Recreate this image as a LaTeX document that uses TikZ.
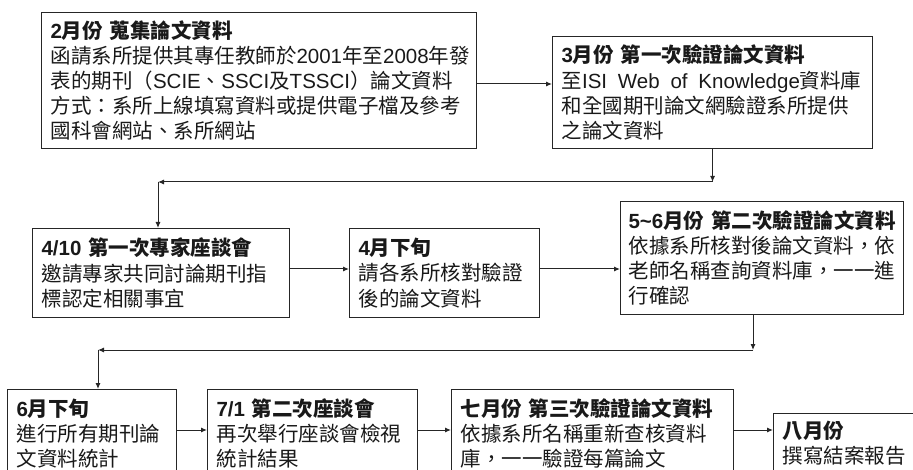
\documentclass[tikz,border=0pt]{standalone}
\usepackage{fontspec}
\setmainfont{Noto Sans CJK TC}
\newfontfamily\latfont{Liberation Sans}
\newcommand\ltn[1]{{\latfont #1}}
\usetikzlibrary{arrows.meta}
\begin{document}
\begin{tikzpicture}[x=1pt,y=-1pt,
  box/.style={draw=black!85, line width=1.1pt, rectangle, anchor=north west, align=left,
    inner xsep=9pt, inner ysep=0pt, font=\fontsize{20.5}{25.2}\selectfont, text=black!90},
  arr/.style={draw=black!85, line width=1pt, -{Latex[length=6pt,width=5pt]}}]
\useasboundingbox (0,0) rectangle (913,470);
\clip (0,0) rectangle (913,470);
% row 1
\node[box, minimum width=435pt, minimum height=136pt, text width=417pt] (b1) at (41,12) {%
\textbf{\ltn{2}月份 蒐集論文資料}\\
函請系所提供其專任教師於\ltn{2001}年至\ltn{2008}年發\\
表的期刊（\ltn{SCIE}、\ltn{SSCI}及\ltn{TSSCI}）論文資料\\
方式：系所上線填寫資料或提供電子檔及參考\\
國科會網站、系所網站};
\node[box, minimum width=320pt, minimum height=112pt, text width=302pt] (b2) at (552,36) {%
\textbf{\ltn{3}月份 第一次驗證論文資料}\\
至\ltn{ISI\hspace{4pt} Web\hspace{4pt} of\hspace{4pt} Knowledge}資料庫\\
和全國期刊論文網驗證系所提供\\
之論文資料};
% row 2
\node[box, minimum width=257pt, minimum height=89pt, text width=239pt] (b3) at (32,228) {%
\textbf{\ltn{4/10} 第一次專家座談會}\\
邀請專家共同討論期刊指\\
標認定相關事宜};
\node[box, minimum width=190pt, minimum height=89pt, text width=172pt] (b4) at (349,228) {%
\textbf{\ltn{4}月下旬}\\
請各系所核對驗證\\
後的論文資料};
\node[box, minimum width=283pt, minimum height=113pt, text width=267pt, inner xsep=8pt] (b5) at (620,201) {%
\mbox{\textbf{\ltn{5\char"7E 6}月份\ 第二次驗證論文資料}}\\
依據系所核對後論文資料，依\\
老師名稱查詢資料庫，一一進\\
行確認};
% row 3
\node[box, minimum width=169pt, minimum height=88pt, text width=151pt] (b6) at (7,389) {%
\textbf{\ltn{6}月下旬}\\
進行所有期刊論\\
文資料統計};
\node[box, minimum width=210pt, minimum height=88pt, text width=192pt] (b7) at (207,389) {%
\textbf{\ltn{7/1} 第二次座談會}\\
再次舉行座談會檢視\\
統計結果};
\node[box, minimum width=282pt, minimum height=88pt, text width=264pt] (b8) at (451,389) {%
\textbf{七月份 第三次驗證論文資料}\\
依據系所名稱重新查核資料\\
庫，一一驗證每篇論文};
\node[box, minimum width=167pt, minimum height=60pt, text width=149pt] (b9) at (773,413) {%
\textbf{八月份}\\
撰寫結案報告};
% connectors
\coordinate (r1) at (0,84);
\draw[arr] (b1.east |- r1) -- (b2.west |- r1);
\coordinate (c1) at (158,182);
\draw[arr] (b2.south) -- (b2.south |- c1);
\draw[arr] (b2.south |- c1) -- (c1);
\draw[arr] (c1) -- (c1 |- b3.north);
\coordinate (r2) at (0,269);
\draw[arr] (b3.east |- r2) -- (b4.west |- r2);
\draw[arr] (b4.east |- r2) -- (b5.west |- r2);
\coordinate (d1) at (753,350);
\coordinate (d2) at (98,350);
\draw[arr] (d1 |- b5.south) -- (d1);
\draw[arr] (d1) -- (d2);
\draw[arr] (d2) -- (d2 |- b6.north);
\coordinate (r3) at (0,430);
\draw[arr] (b6.east |- r3) -- (b7.west |- r3);
\draw[arr] (b7.east |- r3) -- (b8.west |- r3);
\draw[arr] (b8.east |- r3) -- (b9.west |- r3);
\end{tikzpicture}
\end{document}
